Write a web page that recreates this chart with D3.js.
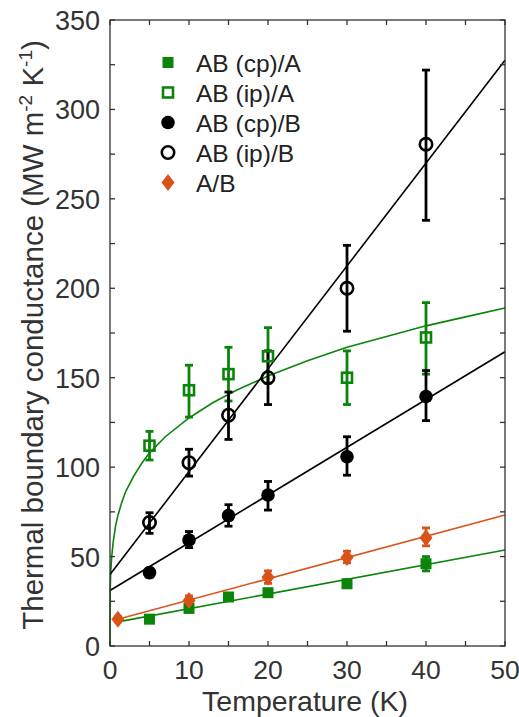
<!DOCTYPE html>
<html>
<head>
<meta charset="utf-8">
<script src="https://cdn.jsdelivr.net/npm/d3@7"></script>
<style>
  body { margin: 0; background: #fff; }
  svg { display: block; font-family: "Liberation Sans", Arial, sans-serif; }
</style>
</head>
<body>
<svg id="chart" width="519" height="717"></svg>
<script>
// measured points: temperature (K), conductance and error bar ends
const cpA_x = [5, 10, 15, 20, 30, 40];
const cpA_y = [15, 21, 27.4, 29.8, 34.8, 46];
const cpA_lo = [14, 19.5, 26, 28.5, 33, 42];
const cpA_hi = [16, 22.5, 29, 31, 37, 50];

const ipA_x = [5, 10, 15, 20, 30, 40];
const ipA_y = [112, 143, 152, 162, 150, 172.5];
const ipA_lo = [104, 128, 137, 147, 135, 152];
const ipA_hi = [120, 157, 167, 178, 165, 192];

const cpB_x = [5, 10, 15, 20, 30, 40];
const cpB_y = [41, 59.3, 72.9, 84.4, 105.8, 139.5];
const cpB_lo = [38.5, 55, 67, 76, 95.5, 126];
const cpB_hi = [43.5, 64, 79, 92, 117, 154];

const ipB_x = [5, 10, 15, 20, 30, 40];
const ipB_y = [69, 102.5, 129, 150, 200, 280.5];
const ipB_lo = [63, 95, 115.5, 135, 176, 238];
const ipB_hi = [74.5, 110, 142, 165, 224, 322];

const AB_x = [1, 10, 20, 30, 40];
const AB_y = [15, 25.5, 38.5, 49.5, 60.5];
const AB_lo = [13.5, 23, 35, 46.5, 56];
const AB_hi = [16.5, 28, 42, 53, 66];

// fitted curves
const fitCpA_x = [1, 50], fitCpA_y = [13.5, 53.7];
const fitAB_x = [1, 50], fitAB_y = [15, 73.2];
const fitCpB_x = [0, 50], fitCpB_y = [31, 164.5];
const fitIpB_x = [0, 50], fitIpB_y = [40, 327.5];
const fitIpA_x = [0, 0.02, 0.05, 0.1, 0.2, 0.4, 0.7, 1, 1.5, 2, 3, 4, 5, 7, 10, 13, 16, 20, 25, 30, 35, 40, 45, 50];
const fitIpA_y = [0, 28, 35, 42, 49, 58, 67, 73, 80.5, 86.5, 95, 102, 108, 117, 127.5, 136, 143, 151, 159.5, 167, 173, 179, 184, 189];

const xTicks = [0, 5, 10, 15, 20, 25, 30, 35, 40, 45, 50];
const yTicks = [0, 25, 50, 75, 100, 125, 150, 175, 200, 225, 250, 275, 300, 325, 350];

const legendNames = ["AB (cp)/A", "AB (ip)/A", "AB (cp)/B", "AB (ip)/B", "A/B"];

const green = "#0a850a", orange = "#d95319", black = "#000", axisColor = "#333";

const svg = d3.select("#chart");
const margin = {top: 20, right: 14, bottom: 71, left: 110};
const W = 519, H = 717;

const x = d3.scaleLinear().domain([0, 50]).range([margin.left, W - margin.right]);
const y = d3.scaleLinear().domain([0, 350]).range([H - margin.bottom, margin.top]);

const zip = (xs, ys) => xs.map((v, i) => [v, ys[i]]);
const line = d3.line().x(d => x(d[0])).y(d => y(d[1]));

// fit lines
const fits = [
  [fitIpA_x, fitIpA_y, green],
  [fitCpA_x, fitCpA_y, green],
  [fitAB_x, fitAB_y, orange],
  [fitCpB_x, fitCpB_y, black],
  [fitIpB_x, fitIpB_y, black]
];
fits.forEach(([xs, ys, c]) => {
  svg.append("path").attr("d", line(zip(xs, ys)))
    .attr("fill", "none").attr("stroke", c).attr("stroke-width", 1.6);
});

// error bars
function errorBars(xs, lo, hi, c) {
  const g = svg.append("g").attr("stroke", c).attr("stroke-width", 2.8);
  xs.forEach((v, i) => {
    g.append("line").attr("x1", x(v)).attr("x2", x(v)).attr("y1", y(lo[i])).attr("y2", y(hi[i]));
    [lo[i], hi[i]].forEach(e => g.append("line")
      .attr("x1", x(v) - 4).attr("x2", x(v) + 4).attr("y1", y(e)).attr("y2", y(e)));
  });
}
errorBars(cpA_x, cpA_lo, cpA_hi, green);
errorBars(ipA_x, ipA_lo, ipA_hi, green);
errorBars(cpB_x, cpB_lo, cpB_hi, black);
errorBars(ipB_x, ipB_lo, ipB_hi, black);
errorBars(AB_x, AB_lo, AB_hi, orange);

// markers
function marker(g, kind, cx, cy) {
  if (kind === "fsq") g.append("rect").attr("x", cx - 5.5).attr("y", cy - 5.5).attr("width", 11).attr("height", 11).attr("fill", green);
  if (kind === "osq") g.append("rect").attr("x", cx - 5).attr("y", cy - 5).attr("width", 10).attr("height", 10).attr("fill", "none").attr("stroke", green).attr("stroke-width", 2.6);
  if (kind === "fci") g.append("circle").attr("cx", cx).attr("cy", cy).attr("r", 6.8).attr("fill", black);
  if (kind === "oci") g.append("circle").attr("cx", cx).attr("cy", cy).attr("r", 6.2).attr("fill", "none").attr("stroke", black).attr("stroke-width", 2.6);
  if (kind === "dia") g.append("path").attr("d", `M${cx},${cy - 8.5}L${cx + 6.5},${cy}L${cx},${cy + 8.5}L${cx - 6.5},${cy}Z`).attr("fill", orange);
}
const series = [
  [cpA_x, cpA_y, "fsq"],
  [ipA_x, ipA_y, "osq"],
  [cpB_x, cpB_y, "fci"],
  [ipB_x, ipB_y, "oci"],
  [AB_x, AB_y, "dia"]
];
const marks = svg.append("g");
series.forEach(([xs, ys, k]) => xs.forEach((v, i) => marker(marks, k, x(v), y(ys[i]))));

// axes box with inward ticks
const tickLen = 5;
const gAxis = svg.append("g").attr("stroke", axisColor).attr("stroke-width", 1.3);
gAxis.append("rect").attr("x", x(0)).attr("y", y(350)).attr("width", x(50) - x(0)).attr("height", y(0) - y(350)).attr("fill", "none");
xTicks.forEach(t => {
  gAxis.append("line").attr("x1", x(t)).attr("x2", x(t)).attr("y1", y(0)).attr("y2", y(0) - tickLen);
  gAxis.append("line").attr("x1", x(t)).attr("x2", x(t)).attr("y1", y(350)).attr("y2", y(350) + tickLen);
});
yTicks.forEach(t => {
  gAxis.append("line").attr("x1", x(0)).attr("x2", x(0) + tickLen).attr("y1", y(t)).attr("y2", y(t));
  gAxis.append("line").attr("x1", x(50)).attr("x2", x(50) - tickLen).attr("y1", y(t)).attr("y2", y(t));
});

const gLab = svg.append("g").attr("fill", axisColor).attr("font-size", 27);
xTicks.filter(t => t % 10 === 0).forEach(t => {
  gLab.append("text").attr("x", x(t)).attr("y", y(0) + 32.5).attr("font-size", 26.5)
    .attr("text-anchor", "middle").text(t);
});
yTicks.filter(t => t % 50 === 0).forEach(t => {
  gLab.append("text").attr("x", x(0) - 10).attr("y", y(t) + 10).attr("text-anchor", "end").text(t);
});

// axis titles
svg.append("text").attr("x", 305).attr("y", 711).attr("text-anchor", "middle")
  .attr("fill", axisColor).attr("font-size", 28.5).text("Temperature (K)");

const yt = svg.append("text").attr("transform", `translate(43,${(y(0) + y(350)) / 2 + 2}) rotate(-90)`)
  .attr("text-anchor", "middle").attr("fill", axisColor).attr("font-size", 29.5);
yt.append("tspan").text("Thermal boundary conductance (MW m");
yt.append("tspan").attr("dy", -11).attr("font-size", 19).text("-2");
yt.append("tspan").attr("dy", 11).text(" K");
yt.append("tspan").attr("dy", -11).attr("font-size", 19).text("-1");
yt.append("tspan").attr("dy", 11).text(")");

// legend
const lg = svg.append("g");
["fsq", "osq", "fci", "oci", "dia"].forEach((k, i) => {
  const cy = 62.5 + i * 30;
  marker(lg, k, 168, cy);
  lg.append("text").attr("x", 196).attr("y", cy + 9).attr("fill", "#222").attr("font-size", 24.5).text(legendNames[i]);
});
</script>
</body>
</html>
